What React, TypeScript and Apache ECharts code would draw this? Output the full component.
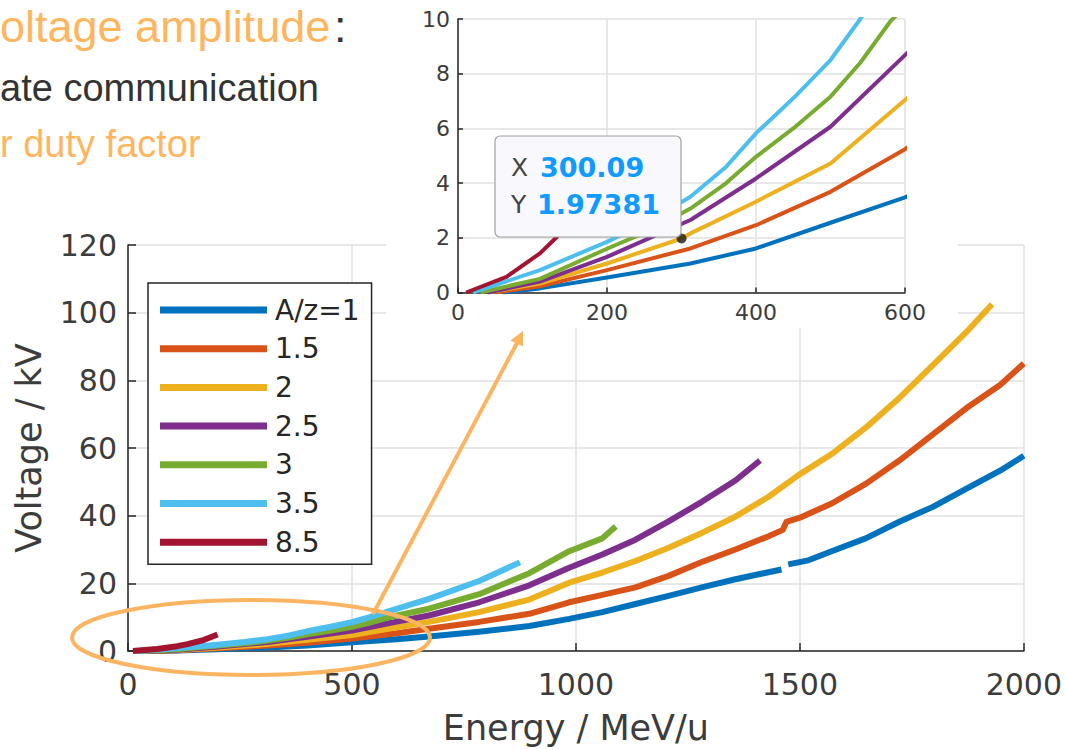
import React, { useEffect, useRef } from "react";
import * as echarts from "echarts";

// ---- data (Energy MeV/u, Voltage kV) ----
const seriesNames = ["A/z=1", "1.5", "2", "2.5", "3", "3.5", "8.5"];
const seriesColors = ["#0072BD", "#D95319", "#EDB120", "#7E2F8E", "#77AC30", "#4DBEEE", "#A2142F"];

const azOne: (number | null)[][] = [
  [60, 0], [110, 0.15], [200, 0.55], [312, 1.06], [400, 1.61], [500, 2.55], [600, 3.48],
  [672, 4.3], [784, 5.7], [896, 7.4], [985, 9.5], [1059, 11.5], [1133, 13.9], [1207, 16.3],
  [1281, 18.8], [1356, 21.2], [1459, 24.1], [1466, null], [1474, 25.6], [1519, 26.8],
  [1571, 29.5], [1647, 33.3], [1722, 38.2], [1797, 42.6], [1872, 48.0], [1947, 53.3], [2000, 57.7],
];
const azOneHalf: number[][] = [
  [50, 0], [110, 0.23], [200, 0.82], [312, 1.61], [400, 2.46], [500, 3.68], [600, 5.24],
  [672, 6.6], [784, 8.6], [896, 11.0], [985, 14.4], [1059, 16.6], [1133, 18.8], [1207, 22.2],
  [1281, 26.3], [1356, 30.0], [1430, 33.9], [1462, 35.8], [1470, 38.2], [1500, 39.4],
  [1571, 43.6], [1647, 49.4], [1722, 56.3], [1797, 64.0], [1872, 71.8], [1947, 78.6], [2000, 85.0],
];
const azTwo: number[][] = [
  [40, 0], [110, 0.33], [200, 1.06], [300.09, 1.97381], [312, 2.16], [400, 3.32], [500, 4.72],
  [600, 7.04], [672, 8.6], [784, 11.5], [896, 15.2], [985, 20.2], [1059, 23.2], [1133, 26.6],
  [1207, 30.5], [1281, 34.9], [1356, 39.7], [1430, 45.6], [1496, 51.9], [1571, 58.2],
  [1647, 66.0], [1722, 74.8], [1797, 84.5], [1872, 94.3], [1929, 102.5],
];
const azTwoHalf: number[][] = [
  [40, 0], [110, 0.4], [200, 1.3], [312, 2.65], [400, 4.17], [500, 6.06], [600, 8.68],
  [672, 10.5], [784, 14.4], [896, 19.4], [985, 24.6], [1059, 28.5], [1133, 32.9], [1207, 38.3],
  [1281, 44.1], [1356, 50.4], [1411, 56.3],
];
const azThree: number[][] = [
  [30, 0], [110, 0.5], [200, 1.6], [260, 2.3], [312, 3.07], [360, 4.0], [400, 4.96],
  [450, 6.0], [500, 7.16], [540, 8.4], [580, 9.9],
  [672, 12.5], [784, 16.8], [896, 23.0], [985, 29.5], [1059, 33.3], [1089, 36.8],
];
const azThreeHalf: number[][] = [
  [20, 0], [110, 0.82], [200, 1.85], [260, 2.65], [312, 3.5], [360, 4.6], [400, 5.82],
  [450, 7.1], [500, 8.5], [540, 10.0],
  [672, 15.4], [784, 20.7], [875, 26.2],
];
const azEightHalf: number[][] = [
  [11, 0], [65, 0.57], [110, 1.43], [133, 2.04], [170, 3.3], [200, 4.9],
];
const allSeries = [azOne, azOneHalf, azTwo, azTwoHalf, azThree, azThreeHalf, azEightHalf];

const cursorPoint = [[300.09, 1.97381]];
const cursorLabels = ["300.09", "1.97381"];

const orange = "#FBB562";
const axisColor = "#262626";
const labelColor = "#3c3c3c";
const gridColor = "#e0e0e0";
const font = "DejaVu Sans";

function axisBase(fontSize: number, tickLen: number, margin: number, z: number) {
  return {
    type: "value" as const,
    z,
    axisLine: { show: true, onZero: false, lineStyle: { color: axisColor, width: 1.5 } },
    axisTick: { show: true, inside: true, length: tickLen, lineStyle: { color: axisColor, width: 1.5 } },
    axisLabel: { fontSize, color: labelColor, fontFamily: font, margin, formatter: (v: number) => String(v) },
    splitLine: { show: true, lineStyle: { color: gridColor, width: 1.5 } },
  };
}

export default function App() {
  const ref = useRef<HTMLDivElement>(null);
  useEffect(() => {
    if (!ref.current) return;
    const chart = echarts.init(ref.current, undefined, { renderer: "svg" });
    const series: any[] = [];
    allSeries.forEach((d, i) => {
      series.push({
        type: "line", name: seriesNames[i], data: d, xAxisIndex: 0, yAxisIndex: 0,
        showSymbol: false, connectNulls: false, z: 2, silent: true,
        lineStyle: { width: 6, color: seriesColors[i], join: "round" }, itemStyle: { color: seriesColors[i] },
      });
    });
    allSeries.forEach((d, i) => {
      series.push({
        type: "line", name: seriesNames[i], data: d, xAxisIndex: 1, yAxisIndex: 1,
        showSymbol: false, connectNulls: false, z: 5, silent: true, clip: true,
        lineStyle: { width: 4, color: seriesColors[i], join: "round" }, itemStyle: { color: seriesColors[i] },
      });
    });
    series.push({
      type: "scatter", name: "cursor", data: cursorPoint, xAxisIndex: 1, yAxisIndex: 1,
      symbolSize: 10, z: 6, silent: true, itemStyle: { color: "#1a1a1a" },
    });

    chart.setOption({
      animation: false,
      backgroundColor: "#ffffff",
      grid: [
        { left: 128, top: 245, width: 896, height: 411 },
        { left: 458, top: 19, width: 447, height: 273.5 },
      ],
      xAxis: [
        {
          ...axisBase(30, 8, 18, 0), gridIndex: 0, min: 0, max: 2000, interval: 500,
          name: "Energy / MeV/u", nameLocation: "middle", nameGap: 59,
          nameTextStyle: { fontSize: 35, color: labelColor, fontFamily: font },
        },
        { ...axisBase(22, 5, 9, 4), gridIndex: 1, min: 0, max: 600, interval: 200 },
      ],
      yAxis: [
        {
          ...axisBase(30, 8, 11, 0), gridIndex: 0, min: 0, max: 120, interval: 20,
          name: "Voltage / kV", nameLocation: "middle", nameGap: 82,
          nameTextStyle: { fontSize: 35, color: labelColor, fontFamily: font },
        },
        { ...axisBase(22, 5, 8, 4), gridIndex: 1, min: 0, max: 10, interval: 2 },
      ],
      legend: {
        data: seriesNames, orient: "vertical", left: 148, top: 283,
        itemWidth: 107, itemHeight: 7, itemGap: 8.7, icon: "rect", selectedMode: false,
        backgroundColor: "#ffffff", borderColor: axisColor, borderWidth: 1.5,
        padding: [12, 12, 7, 12],
        textStyle: { fontSize: 28, color: axisColor, fontFamily: font, lineHeight: 30, padding: [0, 0, 0, 3] },
      },
      graphic: [
        { type: "rect", z: 3, silent: true, shape: { x: 386, y: 0, width: 572, height: 328 }, style: { fill: "#ffffff" } },
        { type: "rect", z: 10, silent: true, shape: { x: 495, y: 136, width: 186, height: 101, r: 5 }, style: { fill: "#f9f9fd", stroke: "#a0a0a0", lineWidth: 1.2 } },
        { type: "text", z: 11, x: 511, y: 167.5, style: { text: "X", fontSize: 25, fontFamily: font, fill: "#444", verticalAlign: "middle" } },
        { type: "text", z: 11, x: 540, y: 167.5, style: { text: cursorLabels[0], fontSize: 27, fontWeight: "bold", fontFamily: font, fill: "#0f9bff", verticalAlign: "middle" } },
        { type: "text", z: 11, x: 511, y: 204, style: { text: "Y", fontSize: 25, fontFamily: font, fill: "#444", verticalAlign: "middle" } },
        { type: "text", z: 11, x: 537, y: 204, style: { text: cursorLabels[1], fontSize: 27, fontWeight: "bold", fontFamily: font, fill: "#0f9bff", verticalAlign: "middle" } },
        { type: "ellipse", z: 10, silent: true, shape: { cx: 251, cy: 637.5, rx: 179, ry: 37.5 }, style: { fill: "none", stroke: orange, lineWidth: 4 } },
        { type: "line", z: 10, silent: true, shape: { x1: 373, y1: 614, x2: 517, y2: 343 }, style: { stroke: orange, lineWidth: 4 } },
        { type: "polygon", z: 10, silent: true, shape: { points: [[523, 331], [523, 346.6], [510.4, 340.4]] }, style: { fill: orange } },
        { type: "text", z: 10, x: 0, y: 26, style: { text: "oltage amplitude", fontSize: 45, fontFamily: "Liberation Sans", fill: "#FFB55E", verticalAlign: "middle" } },
        { type: "text", z: 10, x: 334, y: 26, style: { text: ":", fontSize: 45, fontFamily: "Liberation Sans", fill: "#333333", verticalAlign: "middle" } },
        { type: "text", z: 10, x: 0, y: 88, style: { text: "ate communication", fontSize: 38, fontFamily: "Liberation Sans", fill: "#333333", verticalAlign: "middle" } },
        { type: "text", z: 10, x: 0, y: 144, style: { text: "r duty factor", fontSize: 38, fontFamily: "Liberation Sans", fill: "#FFB55E", verticalAlign: "middle" } },
      ],
      series,
    });
    return () => chart.dispose();
  }, []);
  return (
    <div
      ref={ref}
      style={{ position: "absolute", left: 0, top: 0, width: 1065, height: 750 }}
    />
  );
}
